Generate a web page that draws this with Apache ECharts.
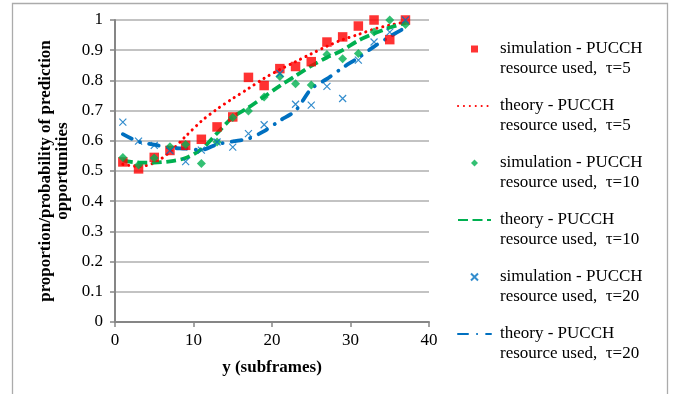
<!DOCTYPE html>
<html>
<head>
<meta charset="utf-8">
<script src="https://cdn.jsdelivr.net/npm/echarts@6/dist/echarts.min.js"></script>
<style>
    html, body { margin: 0; padding: 0; background: #fff; }
    #myChart { width: 676px; height: 394px; }
</style>
</head>
<body>
<div id="myChart"></div>
<script>
// y (subframes)
var xs = [1, 3, 5, 7, 9, 11, 13, 15, 17, 19, 21, 23, 25, 27, 29, 31, 33, 35, 37];

var sim_tau5 = [0.53, 0.507, 0.545, 0.568, 0.585, 0.605, 0.646, 0.679, 0.81, 0.783,
    0.839, 0.846, 0.862, 0.927, 0.944, 0.98, 1.0, 0.935, 1.0];
var theory_tau5 = [0.522, 0.515, 0.527, 0.563, 0.615, 0.665, 0.705, 0.74, 0.773, 0.807,
    0.836, 0.862, 0.888, 0.913, 0.935, 0.952, 0.97, 0.983, 0.993];

var sim_tau10 = [0.545, 0.52, 0.543, 0.58, 0.588, 0.525, 0.596, 0.677, 0.699, 0.745,
    0.813, 0.789, 0.785, 0.886, 0.872, 0.889, 0.96, 1.0, 0.985];
var theory_tau10 = [0.535, 0.528, 0.528, 0.532, 0.543, 0.572, 0.625, 0.678, 0.71, 0.746,
    0.782, 0.815, 0.848, 0.876, 0.9, 0.932, 0.955, 0.975, 0.99];

var sim_tau20 = [0.662, 0.599, 0.585, 0.568, 0.531, 0.569, 0.596, 0.579, 0.624, 0.653,
    0.823, 0.721, 0.718, 0.78, 0.74, 0.867, 0.927, 0.96, 1.0];
var theory_tau20 = [0.622, 0.597, 0.587, 0.577, 0.574, 0.57, 0.588, 0.598, 0.607, 0.632,
    0.667, 0.7, 0.772, 0.805, 0.842, 0.875, 0.912, 0.945, 0.975];

var legend_names = [
    'simulation - PUCCH\nresource used,  τ=5',
    'theory - PUCCH\nresource used,  τ=5',
    'simulation - PUCCH\nresource used,  τ=10',
    'theory - PUCCH\nresource used,  τ=10',
    'simulation - PUCCH\nresource used,  τ=20',
    'theory - PUCCH\nresource used,  τ=20'
];

var RED = '#FF0000';
var GREEN = '#00B050';
var BLUE = '#0070C0';
var FONT = '"Liberation Serif", "Times New Roman", serif';

// path symbols so the legend keeps their aspect
var SQUARE = 'path://M0,0L10,0L10,10L0,10Z';
var DIAMOND = 'path://M5,0L10,5L5,10L0,5Z';
var CROSS = 'path://M0,0L10,10M10,0L0,10';

function pairs(values) {
    var out = [];
    for (var i = 0; i < xs.length; i++) {
        out.push([xs[i], values[i]]);
    }
    return out;
}

function sim_series(name, values, symbol, size, style) {
    return {
        name: name,
        type: 'scatter',
        symbol: symbol,
        symbolSize: size,
        symbolKeepAspect: true,
        itemStyle: style,
        data: pairs(values),
        z: 3
    };
}

function theory_series(name, values, color, width, dash, cap) {
    return {
        name: name,
        type: 'line',
        smooth: 0.3,
        symbol: 'none',
        showSymbol: false,
        lineStyle: {color: color, width: width, type: dash, cap: cap},
        itemStyle: {color: color},
        data: pairs(values),
        z: 2
    };
}

function create_image() {
    var myChart = echarts.init(document.getElementById('myChart'));
    var series = [
        sim_series(legend_names[0], sim_tau5, SQUARE, 9.5, {color: RED}),
        theory_series(legend_names[1], theory_tau5, RED, 3, [0.1, 5.8], 'round'),
        sim_series(legend_names[2], sim_tau10, DIAMOND, 9, {color: GREEN}),
        theory_series(legend_names[3], theory_tau10, GREEN, 3.8, [10, 4.5], 'butt'),
        sim_series(legend_names[4], sim_tau20, CROSS, 7,
            {color: 'transparent', borderColor: BLUE, borderWidth: 1.2}),
        theory_series(legend_names[5], theory_tau20, BLUE, 3.8, [10, 9, 0.1, 9], 'round')
    ];

    var legend_data = [];
    for (var i = 0; i < legend_names.length; i++) {
        var item = {name: legend_names[i]};
        if (i % 2 === 1) {
            // line entries: show only the line, no marker
            item.itemStyle = {opacity: 0};
        }
        legend_data.push(item);
    }

    var option = {
        animation: false,
        backgroundColor: '#fff',
        textStyle: {fontFamily: FONT},
        graphic: [{
            type: 'rect',
            shape: {x: 12.5, y: 3.5, width: 655, height: 400},
            style: {fill: 'none', stroke: '#ABABAB', lineWidth: 1.3},
            silent: true
        }],
        grid: {left: 115, right: 247, top: 20, bottom: 72},
        legend: {
            orient: 'vertical',
            left: 457,
            top: 19,
            padding: 0,
            itemGap: -3,
            itemWidth: 33,
            itemHeight: 7,
            symbolKeepAspect: true,
            data: legend_data,
            // blank first line puts the marker beside the first text line
            formatter: function (name) {
                return '\n' + name;
            },
            textStyle: {
                fontFamily: FONT,
                fontSize: 17,
                color: '#000',
                lineHeight: 20,
                padding: [0, 0, 0, 4]
            }
        },
        xAxis: {
            type: 'value',
            min: 0,
            max: 40,
            interval: 10,
            name: 'y (subframes)',
            nameLocation: 'middle',
            nameGap: 37,
            nameTextStyle: {fontFamily: FONT, fontSize: 17, fontWeight: 'bold', color: '#000'},
            axisLine: {show: true, lineStyle: {color: '#868686', width: 2}},
            axisTick: {show: true, length: 5, lineStyle: {color: '#868686', width: 1.5}},
            axisLabel: {fontFamily: FONT, fontSize: 17, color: '#000', margin: 10},
            splitLine: {show: false}
        },
        yAxis: {
            type: 'value',
            min: 0,
            max: 1,
            interval: 0.1,
            name: 'proportion/probability of prediction\nopportunities',
            nameLocation: 'middle',
            nameGap: 44,
            nameTextStyle: {fontFamily: FONT, fontSize: 17, fontWeight: 'bold', color: '#000', lineHeight: 17},
            axisLine: {show: true, lineStyle: {color: '#868686', width: 2}},
            axisTick: {show: true, length: 5, lineStyle: {color: '#868686', width: 1.5}},
            axisLabel: {fontFamily: FONT, fontSize: 17, color: '#000', margin: 12},
            splitLine: {lineStyle: {color: '#AFAFAF', width: 1.5}}
        },
        series: series
    };
    myChart.setOption(option);
}

create_image();
</script>
</body>
</html>
